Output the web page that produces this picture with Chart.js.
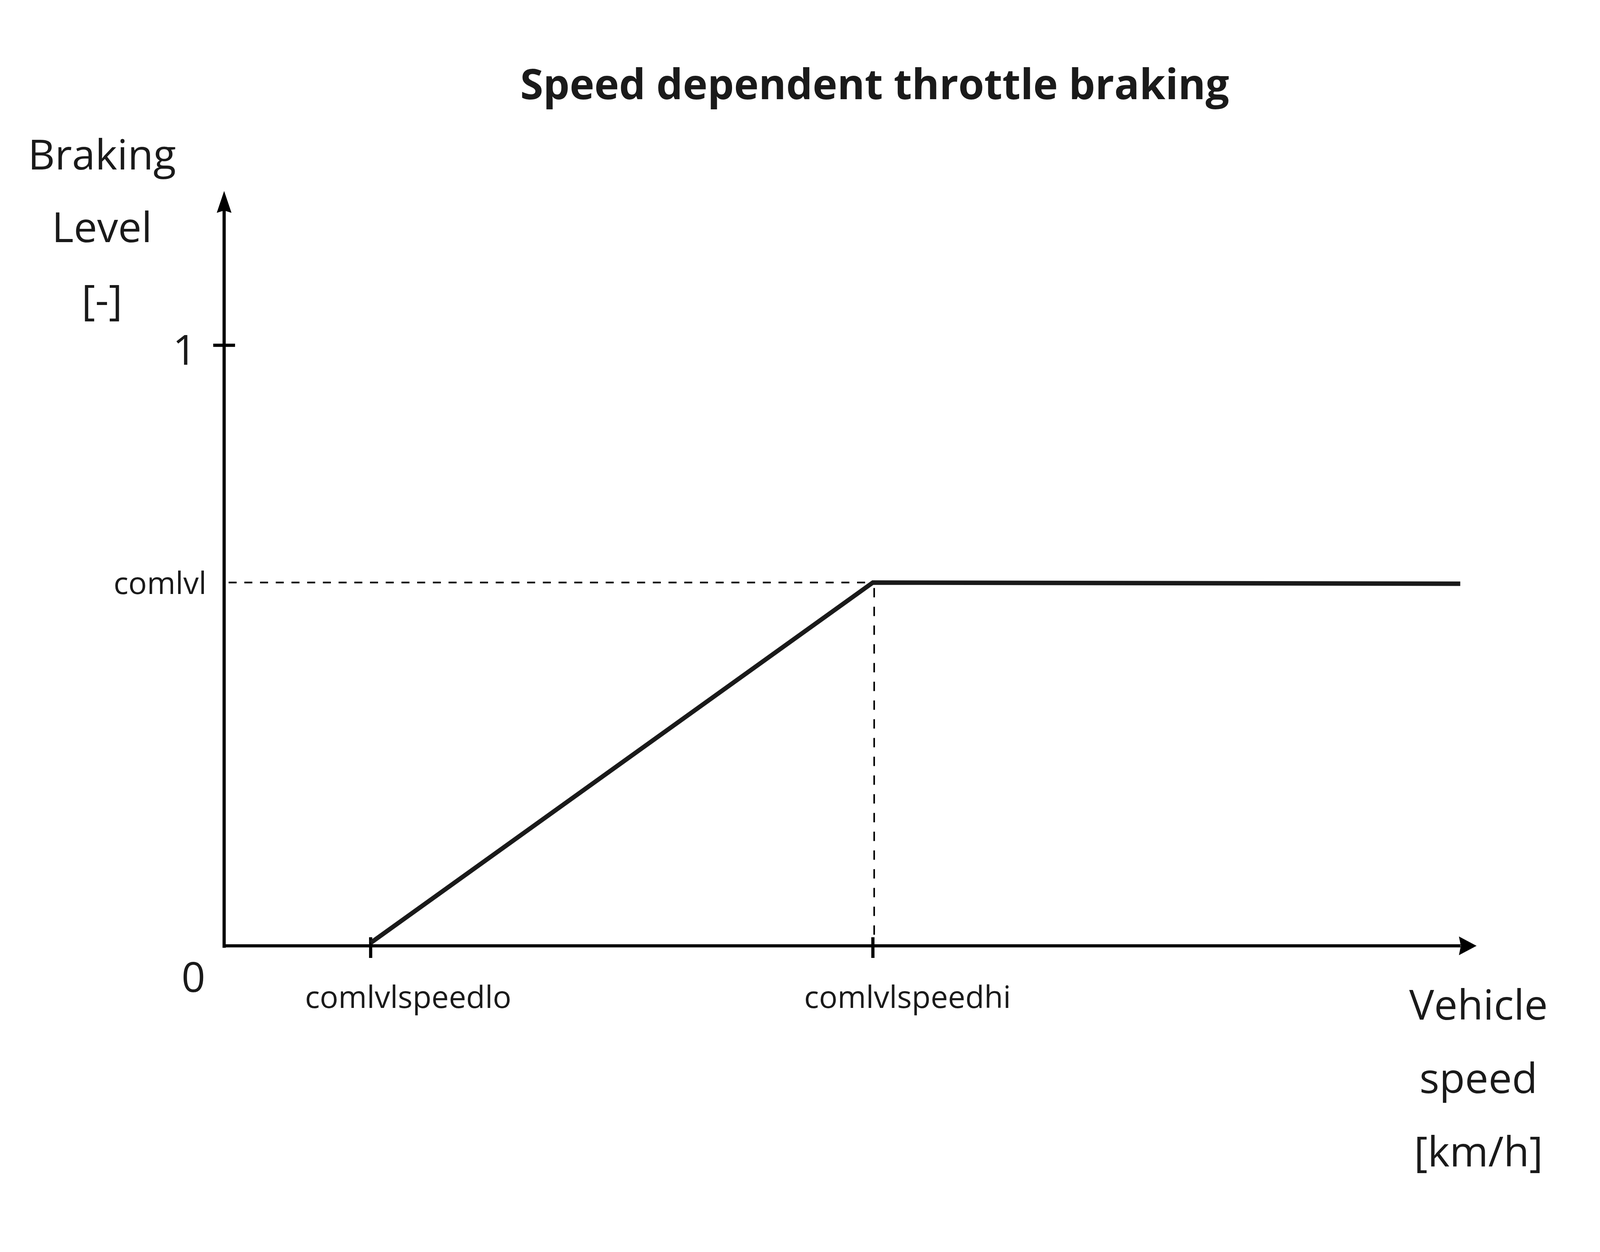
<!DOCTYPE html>
<html lang="en">
<head>
    <meta charset="UTF-8">
    <title>Speed dependent throttle braking</title>
    <style>
        html, body { margin: 0; padding: 0; background: #ffffff; overflow: hidden; }
        #wrap { position: relative; width: 100vw; height: 100vh; }
    </style>
    <script src="https://cdn.jsdelivr.net/npm/chart.js@4.4.0/dist/chart.umd.min.js"></script>
</head>
<body>
    <div id="wrap">
        <canvas id="brake-chart"></canvas>
    </div>

    <script>
        // curve data (schematic, speed axis runs 0..100)
        const speedPoints = [11.7, 51.8, 98.7];
        const brakingLevels = [0.005, 0.605, 0.603];

        // tick values / labels
        const xTickValues = [11.7, 51.8];
        const xTickLabels = ['comlvlspeedlo', 'comlvlspeedhi'];
        const yTickValues = [0, 0.605, 1];
        const yTickLabels = ['0', 'comlvl', '1'];

        const xAxisMax = 100;
        const yAxisMax = 1.257;

        const titleText = 'Speed dependent throttle braking';
        const yTitleLines = ['Braking', 'Level', '[-]'];
        const xTitleLines = ['Vehicle', 'speed', '[km/h]'];

        const INK = '#1a1a1a';
        const FONT = '"Open Sans", "DejaVu Sans", sans-serif';

        // laid out on a 4990 x 3206 sheet, scaled to whatever the window really is
        // (the browser caps the width at 4096)
        const BASE_W = 4990, BASE_H = 3206;
        let kx = window.innerWidth / BASE_W;
        let ky = window.innerHeight / BASE_H;

        function arrowHead(ctx, tipX, tipY, dir) {
            // dir: 'up' or 'right', slightly notched head
            const a = 23 * kx, l = 56 * ky, n = 50 * ky;
            const b = 24 * ky, m = 55 * kx, q = 49 * kx;
            ctx.beginPath();
            if (dir === 'up') {
                ctx.moveTo(tipX, tipY);
                ctx.lineTo(tipX + a, tipY + l);
                ctx.lineTo(tipX, tipY + n);
                ctx.lineTo(tipX - a, tipY + l);
            } else {
                ctx.moveTo(tipX, tipY);
                ctx.lineTo(tipX - m, tipY - b);
                ctx.lineTo(tipX - q, tipY);
                ctx.lineTo(tipX - m, tipY + b);
            }
            ctx.closePath();
            ctx.fill();
        }

        function font(size, bold) {
            return (bold ? 'bold ' : '') + Math.round(size * kx) + 'px ' + FONT;
        }

        const axesPlugin = {
            id: 'sketchAxes',
            beforeDatasetsDraw(chart) {
                kx = chart.width / BASE_W;
                ky = chart.height / BASE_H;
                const ctx = chart.ctx;
                const xs = chart.scales.x, ys = chart.scales.y;
                const x0 = xs.getPixelForValue(0), y0 = ys.getPixelForValue(0);
                const xEnd = xs.getPixelForValue(xAxisMax), yEnd = ys.getPixelForValue(yAxisMax);
                ctx.save();

                // dashed guides at comlvl / comlvlspeedhi
                const gy = ys.getPixelForValue(yTickValues[1]);
                const gx = xs.getPixelForValue(xTickValues[1]);
                ctx.strokeStyle = '#000';
                ctx.lineWidth = 5 * kx;
                ctx.setLineDash([25 * kx, 24 * kx]);
                ctx.beginPath();
                ctx.moveTo(x0 + 14 * kx, gy);
                ctx.lineTo(gx, gy);
                ctx.stroke();
                ctx.setLineDash([24 * ky, 24 * ky]);
                ctx.beginPath();
                ctx.moveTo(gx + 4 * kx, gy + 14 * ky);
                ctx.lineTo(gx + 4 * kx, y0 - 6 * ky);
                ctx.stroke();
                ctx.setLineDash([]);

                // axes
                ctx.lineWidth = 10 * kx;
                ctx.beginPath();
                ctx.moveTo(x0, y0 + 5 * ky);
                ctx.lineTo(x0, yEnd + 50 * ky);
                ctx.moveTo(x0 + 4 * kx, y0);
                ctx.lineTo(xEnd - 50 * kx, y0);
                ctx.stroke();
                ctx.fillStyle = '#000';
                arrowHead(ctx, x0, yEnd, 'up');
                arrowHead(ctx, xEnd, y0, 'right');

                // tick marks
                ctx.beginPath();
                const y1 = ys.getPixelForValue(yTickValues[2]);
                ctx.moveTo(x0 - 34 * kx, y1);
                ctx.lineTo(x0 + 34 * kx, y1);
                xTickValues.forEach(v => {
                    const px = xs.getPixelForValue(v);
                    ctx.moveTo(px, y0 - 22 * ky);
                    ctx.lineTo(px, y0 + 31 * ky);
                });
                ctx.stroke();
                ctx.restore();
            },
            afterDraw(chart) {
                const ctx = chart.ctx;
                const xs = chart.scales.x, ys = chart.scales.y;
                const x0 = xs.getPixelForValue(0), y0 = ys.getPixelForValue(0);
                ctx.save();
                ctx.fillStyle = INK;
                ctx.textBaseline = 'alphabetic';

                // title
                ctx.font = font(130, true);
                ctx.textAlign = 'center';
                ctx.fillText(titleText, 2728 * kx, 254 * ky);

                // axis titles
                ctx.font = font(130);
                yTitleLines.forEach((t, i) => ctx.fillText(t, 318 * kx, (434 + i * 186) * ky));
                xTitleLines.forEach((t, i) => ctx.fillText(t, 4611 * kx, (2611 + i * 188) * ky));

                // y tick labels
                ctx.textAlign = 'center';
                ctx.fillText(yTickLabels[0], x0 - 96 * kx, y0 + 118 * ky);
                ctx.textAlign = 'right';
                ctx.fillText(yTickLabels[2], x0 - 86 * kx, ys.getPixelForValue(yTickValues[2]) + 50 * ky);
                ctx.font = font(96);
                ctx.fillText(yTickLabels[1], x0 - 55 * kx, ys.getPixelForValue(yTickValues[1]) + 29 * ky);

                // x tick labels sit a little right of their ticks
                ctx.textAlign = 'center';
                const labelShift = [117, 108];
                xTickValues.forEach((v, i) => {
                    ctx.fillText(xTickLabels[i], xs.getPixelForValue(v) + labelShift[i] * kx, y0 + 159 * ky);
                });
                ctx.restore();
            }
        };

        const points = speedPoints.map((s, i) => ({ x: s, y: brakingLevels[i] }));

        const myChart = new Chart(document.getElementById('brake-chart').getContext('2d'), {
            type: 'line',
            data: {
                datasets: [{
                    data: points,
                    borderColor: INK,
                    borderWidth: 14 * kx,
                    pointRadius: 0,
                    tension: 0,
                    fill: false,
                    clip: false,
                    borderJoinStyle: 'miter',
                    borderCapStyle: 'butt'
                }]
            },
            options: {
                responsive: true,
                maintainAspectRatio: false,
                animation: false,
                layout: {
                    padding: {
                        left: 699 * kx,
                        right: 385 * kx,
                        top: 489 * ky,
                        bottom: 784 * ky
                    }
                },
                plugins: {
                    legend: { display: false },
                    title: { display: false },
                    tooltip: { enabled: false }
                },
                scales: {
                    x: { type: 'linear', min: 0, max: xAxisMax, display: false },
                    y: { type: 'linear', min: 0, max: yAxisMax, display: false }
                }
            },
            plugins: [axesPlugin]
        });
    </script>
</body>
</html>
